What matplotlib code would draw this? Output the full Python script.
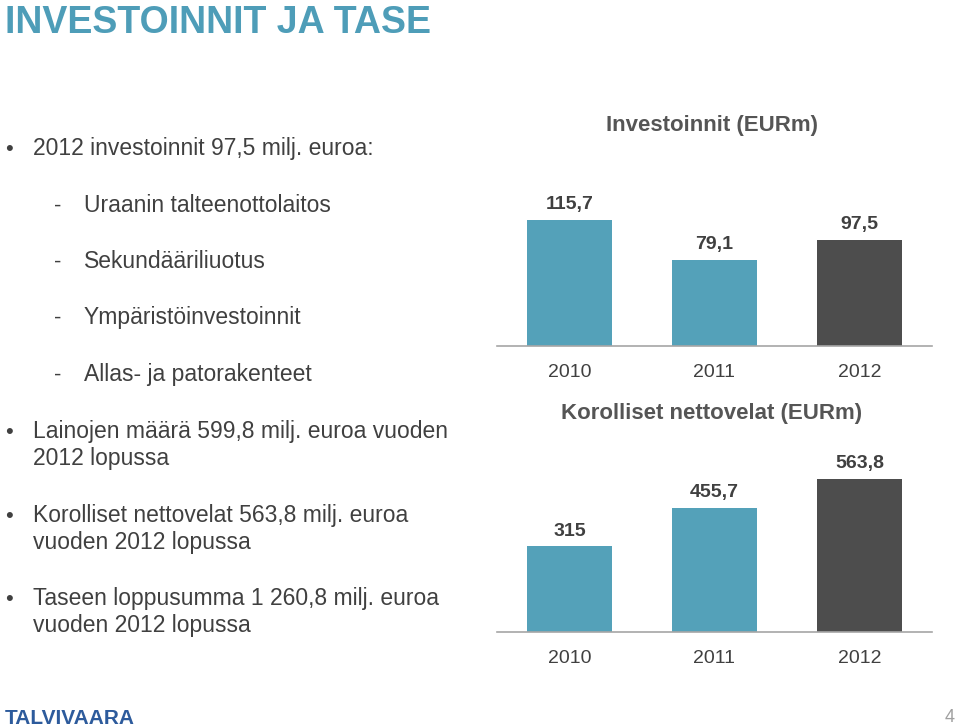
import matplotlib.pyplot as plt
import numpy as np

plt.rcParams['font.family'] = ['Liberation Sans', 'DejaVu Sans']

# data
years = ["2010", "2011", "2012"]
investments = [115.7, 79.1, 97.5]
net_debt = [315, 455.7, 563.8]
value_labels_inv = ["115,7", "79,1", "97,5"]
value_labels_debt = ["315", "455,7", "563,8"]

bullets = [
    ("•", "2012 investoinnit 97,5 milj. euroa:", 155),
    ("-", "Uraanin talteenottolaitos", 212),
    ("-", "Sekundääriliuotus", 268),
    ("-", "Ympäristöinvestoinnit", 324),
    ("-", "Allas- ja patorakenteet", 381),
    ("•", "Lainojen määrä 599,8 milj. euroa vuoden\n2012 lopussa", 438),
    ("•", "Korolliset nettovelat 563,8 milj. euroa\nvuoden 2012 lopussa", 522),
    ("•", "Taseen loppusumma 1 260,8 milj. euroa\nvuoden 2012 lopussa", 605),
]

TEAL = "#54A1B9"
DARK = "#4D4D4D"
TEXT = "#404040"
W, H = 960, 727

fig = plt.figure(figsize=(9.6, 7.27), dpi=100)


def fy(y):
    return 1 - y / H


fig.text(5 / W, fy(33), "INVESTOINNIT JA TASE", fontsize=27, fontweight="bold",
         color="#4E9DB8", va="baseline", ha="left")

for mark, txt, y in bullets:
    if mark == "•":
        fig.text(5 / W, fy(y), "•", fontsize=16, color=TEXT, va="baseline")
        x = 33
    else:
        fig.text(54 / W, fy(y), "-", fontsize=16, color=TEXT, va="baseline")
        x = 84
    lines = txt.split("\n")
    for i, line in enumerate(lines):
        fig.text(x / W, fy(y + 27 * i), line, fontsize=16.5, color=TEXT, va="baseline")


def bar_chart(rect, values, labels, ymax, title, title_y):
    ax = fig.add_axes(rect)
    colors = [TEAL, TEAL, DARK]
    bars = ax.bar(np.arange(len(values)), values, width=0.586, color=colors)
    ax.bar_label(bars, labels=labels, padding=5, fontsize=14, fontweight="bold", color=TEXT)
    ax.set_xlim(-0.5, len(values) - 0.5)
    ax.set_ylim(0, ymax)
    ax.set_xticks(np.arange(len(values)))
    ax.set_xticklabels(years, fontsize=14, color=TEXT)
    ax.tick_params(axis="x", length=0, pad=13)
    ax.set_yticks([])
    for s in ["top", "right", "left"]:
        ax.spines[s].set_visible(False)
    ax.spines["bottom"].set_color("#A6A6A6")
    ax.spines["bottom"].set_linewidth(1.2)
    fig.text(712 / W, fy(title_y), title, fontsize=16, fontweight="bold", color="#555555",
             ha="center", va="center")
    return ax


left = 497 / W
width = 435 / W
# top chart: baseline y=346, top y=200, scale 1.088 px/unit
bar_chart([left, fy(346), width, 146 / H], investments, value_labels_inv,
          146 / 1.088, "Investoinnit (EURm)", 125)
# bottom chart: baseline y=632, top y=470, scale 0.2715 px/unit
bar_chart([left, fy(632), width, 162 / H], net_debt, value_labels_debt,
          162 / 0.2715, "Korolliset nettovelat (EURm)", 414)

fig.text(5 / W, fy(724), "TALVIVAARA", fontsize=15, fontweight="bold",
         color="#2D5B9C", va="baseline", family=["Liberation Sans Narrow", "Liberation Sans"])
fig.text(955 / W, fy(722), "4", fontsize=13, color="#A0A0A0", ha="right", va="baseline")

fig.savefig("out.png", dpi=100)
